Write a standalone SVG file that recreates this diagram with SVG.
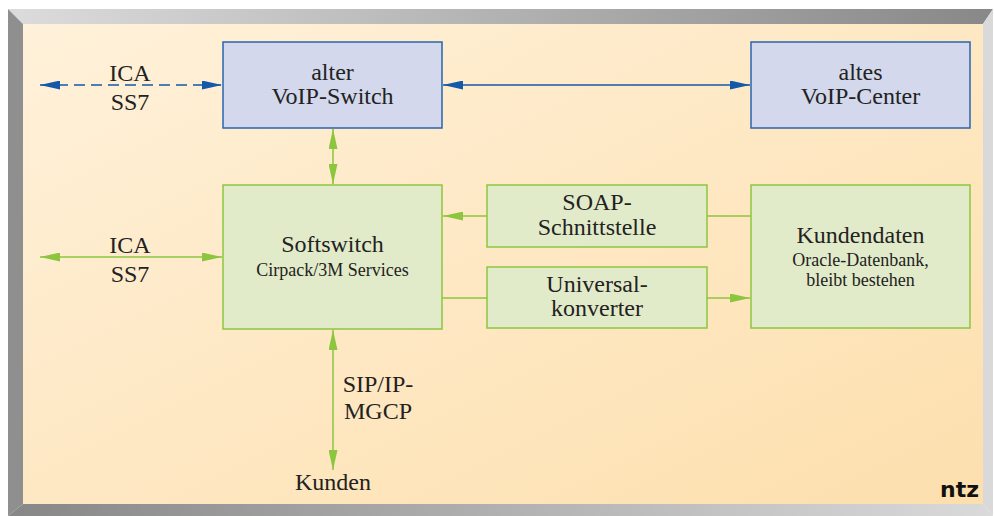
<svg xmlns="http://www.w3.org/2000/svg" width="994" height="516" viewBox="0 0 994 516">
<style>
.t{font-family:"Liberation Serif",serif;font-size:24px;fill:#222;text-anchor:middle}
.s{font-family:"Liberation Serif",serif;font-size:18px;fill:#222;text-anchor:middle}
.bb{fill:#d3d8ec;stroke:#2a64ad;stroke-width:1.5}
.gb{fill:#e2ebc9;stroke:#8cc63f;stroke-width:1.5}
.bl{stroke:#1458a8;stroke-width:1.5;fill:none}
.gl{stroke:#8cc63f;stroke-width:1.5;fill:none}
</style>
<defs>
<linearGradient id="panel" x1="0" y1="0" x2="1" y2="1">
<stop offset="0" stop-color="#fff1da"/>
<stop offset="1" stop-color="#fddfad"/>
</linearGradient>
<linearGradient id="top" x1="0" y1="0" x2="1" y2="0">
<stop offset="0" stop-color="#dcdcdc"/>
<stop offset="1" stop-color="#888888"/>
</linearGradient>
<linearGradient id="bot" x1="0" y1="0" x2="1" y2="0">
<stop offset="0" stop-color="#878787"/>
<stop offset="1" stop-color="#dadada"/>
</linearGradient>
<marker id="ab" viewBox="0 0 20 9" refX="20" refY="4.5" markerWidth="20" markerHeight="9" markerUnits="userSpaceOnUse" orient="auto-start-reverse">
<path d="M0,0 L20,4.5 L0,9 Z" fill="#1458a8"/>
</marker>
<marker id="ag" viewBox="0 0 20 9" refX="20" refY="4.5" markerWidth="20" markerHeight="9" markerUnits="userSpaceOnUse" orient="auto-start-reverse">
<path d="M0,0 L20,4.5 L0,9 Z" fill="#8cc63f"/>
</marker>
</defs>
<g id="frame">
<rect x="23" y="24" width="960" height="480" fill="url(#panel)"/>
<polygon points="8,9 993,9 983,24 23,24" fill="url(#top)"/>
<polygon points="8,9 23,24 23,504 8,516" fill="#8f8f8f"/>
<polygon points="8,516 23,504 983,504 993,516" fill="url(#bot)"/>
<polygon points="993,9 983,24 983,504 993,516" fill="#d9d9d9"/>
</g>
<g id="connectors">
<line class="bl" x1="40" y1="85" x2="222" y2="85" stroke-dasharray="11,6" marker-start="url(#ab)" marker-end="url(#ab)"/>
<line class="bl" x1="443" y1="85" x2="750" y2="85" marker-start="url(#ab)" marker-end="url(#ab)"/>
<line class="gl" x1="333" y1="129" x2="333" y2="184" marker-start="url(#ag)" marker-end="url(#ag)"/>
<line class="gl" x1="40" y1="257" x2="222" y2="257" marker-start="url(#ag)" marker-end="url(#ag)"/>
<line class="gl" x1="487" y1="216" x2="443" y2="216" marker-end="url(#ag)"/>
<line class="gl" x1="751" y1="216" x2="707" y2="216"/>
<line class="gl" x1="442" y1="298" x2="487" y2="298"/>
<line class="gl" x1="707" y1="298" x2="750" y2="298" marker-end="url(#ag)"/>
<line class="gl" x1="333" y1="330" x2="333" y2="470" marker-start="url(#ag)" marker-end="url(#ag)"/>
</g>
<g id="labels">
<text class="t" x="130" y="81">ICA</text>
<text class="t" x="130" y="110">SS7</text>
<text class="t" x="130" y="253">ICA</text>
<text class="t" x="130" y="282">SS7</text>
<text class="t" x="378" y="392">SIP/IP-</text>
<text class="t" x="378" y="419">MGCP</text>
<text class="t" x="333" y="490">Kunden</text>
<text x="979" y="497" font-family="DejaVu Sans, sans-serif" font-weight="bold" font-size="22" fill="#111" text-anchor="end">ntz</text>
</g>
<g id="alter-voip-switch">
<rect class="bb" x="223" y="42" width="219" height="86"/>
<text class="t" x="332.5" y="80">alter</text>
<text class="t" x="332.5" y="104">VoIP-Switch</text>
</g>
<g id="altes-voip-center">
<rect class="bb" x="751" y="42" width="219" height="86"/>
<text class="t" x="860.5" y="80">altes</text>
<text class="t" x="860.5" y="104">VoIP-Center</text>
</g>
<g id="softswitch">
<rect class="gb" x="223" y="185" width="219" height="144"/>
<text class="t" x="332.5" y="252">Softswitch</text>
<text class="s" x="332.5" y="276">Cirpack/3M Services</text>
</g>
<g id="soap">
<rect class="gb" x="487" y="185" width="220" height="62"/>
<text class="t" x="597" y="210">SOAP-</text>
<text class="t" x="597" y="235">Schnittstelle</text>
</g>
<g id="universalkonverter">
<rect class="gb" x="487" y="267" width="220" height="61"/>
<text class="t" x="597" y="292">Universal-</text>
<text class="t" x="597" y="316">konverter</text>
</g>
<g id="kundendaten">
<rect class="gb" x="751" y="185" width="219" height="143"/>
<text class="t" x="860.5" y="243">Kundendaten</text>
<text class="s" x="860.5" y="266">Oracle-Datenbank,</text>
<text class="s" x="860.5" y="286">bleibt bestehen</text>
</g>
</svg>
